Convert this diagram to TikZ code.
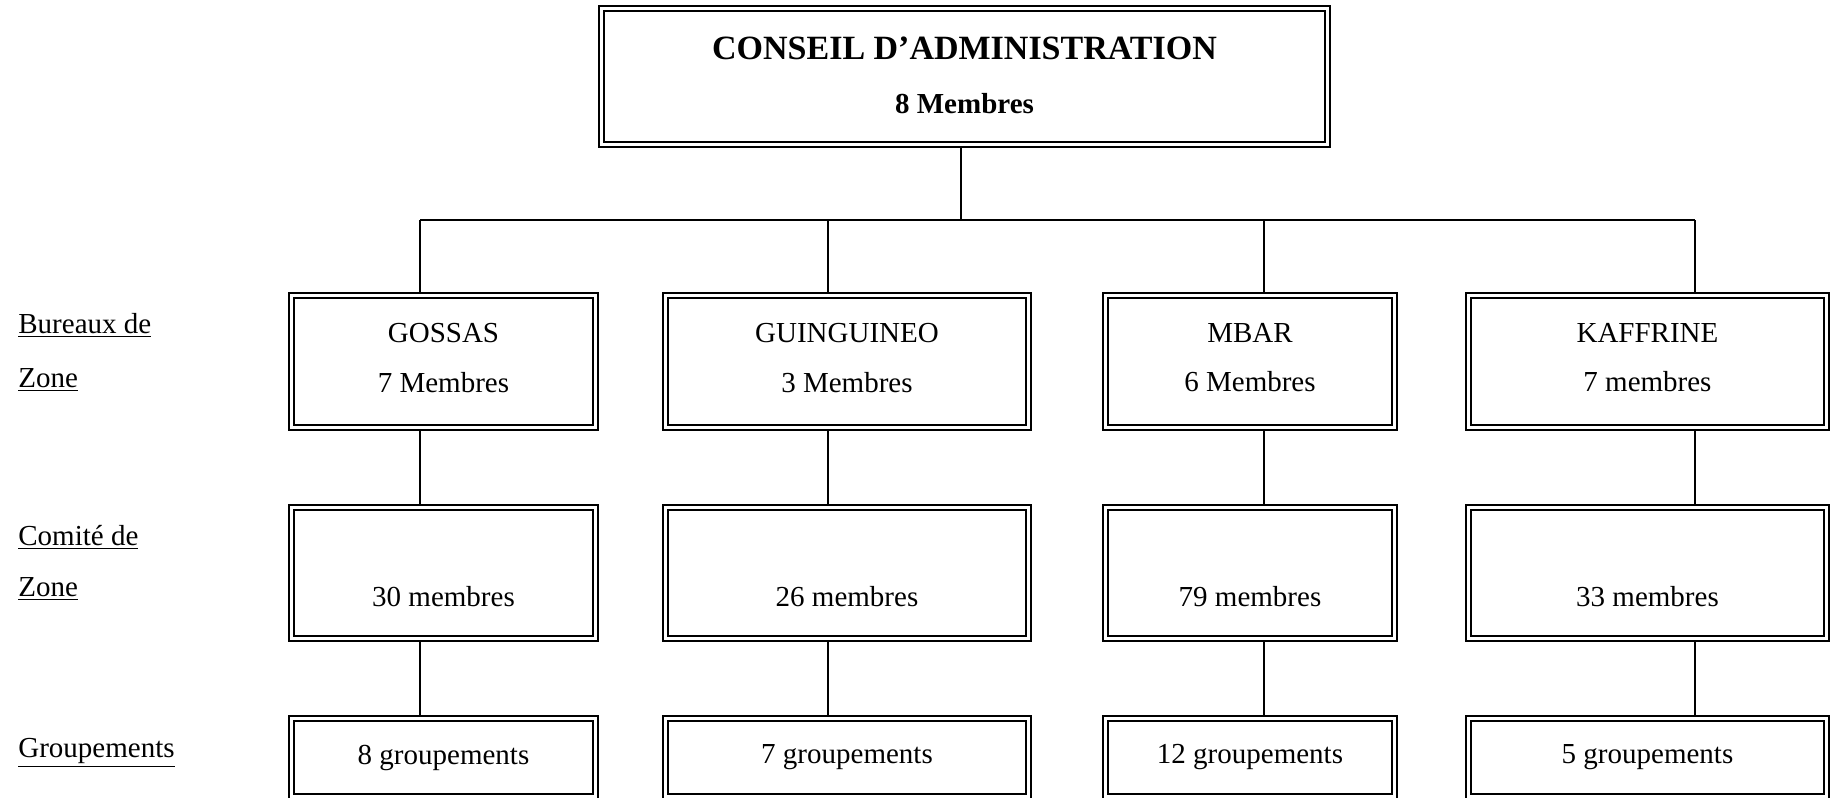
\documentclass[tikz,border=0pt]{standalone}
\usepackage{fontspec}
\setmainfont{Liberation Serif}

\begin{document}
\begin{tikzpicture}[
  x=0.5pt,y=-0.5pt,
  font=\fontsize{14.5}{17.4}\selectfont,
  box/.style={draw,double,line width=0.75pt,double distance=1.75pt,
              inner sep=0pt,outer sep=1.6pt,align=center},
  bz/.style={box,minimum height=66pt,text depth=4pt},
  cz/.style={box,minimum height=65.5pt},
  gz/.style={box,minimum height=39pt},
  wG/.style={minimum width=152pt},
  wU/.style={minimum width=181.5pt},
  wM/.style={minimum width=144.5pt},
  wK/.style={minimum width=179pt},
  lab/.style={anchor=base west,inner sep=0pt},
]
\useasboundingbox (0,0) rectangle (1832,798);

% ---- conseil -------------------------------------------------------------
\node[box,minimum width=363pt,minimum height=68pt,text depth=1.2pt,
      font=\fontsize{14.5}{20}\selectfont\bfseries] (CA) at (964.5,76.5)
  {{\fontsize{17}{20}\selectfont CONSEIL D’ADMINISTRATION}\\[7pt]8 Membres};

% ---- bureaux de zone -----------------------------------------------------
\node[bz,wG] (BG) at (443.5,361.5) {GOSSAS\\[7.5pt]7 Membres};
\node[bz,wU] (BU) at (847,361.5) {GUINGUINEO\\[7.5pt]3 Membres};
\node[bz,wM] (BM) at (1250,361.5) {MBAR\\[7.5pt]6 Membres};
\node[bz,wK] (BK) at (1647.5,361.5) {KAFFRINE\\[7.5pt]7 membres};

% ---- comites de zone -----------------------------------------------------
\node[cz,wG] (CG) at (443.5,573) {\vphantom{G}\\[7pt]30 membres};
\node[cz,wU] (CU) at (847,573) {\vphantom{G}\\[7pt]26 membres};
\node[cz,wM] (CM) at (1250,573) {\vphantom{G}\\[7pt]79 membres};
\node[cz,wK] (CK) at (1647.5,573) {\vphantom{G}\\[7pt]33 membres};

% ---- groupements ---------------------------------------------------------
\node[gz,wG] (GG) at (443.5,757.5) {8 groupements};
\node[gz,wU] (GU) at (847,757.5) {7 groupements};
\node[gz,wM] (GM) at (1250,757.5) {12 groupements};
\node[gz,wK] (GK) at (1647.5,757.5) {5 groupements};

% row labels
\node[lab] (LB1) at (18,333) {\underline{Bureaux de}};
\node[lab] (LB2) at (18,387.5) {\underline{Zone}};
\node[lab] (LC1) at (18,545) {\underline{Comité de}};
\node[lab] (LC2) at (18,596) {\underline{Zone}};
\node[lab] (LG) at (18,757) {\underline{Groupements}};

% ---- links ---------------------------------------------------------------
\coordinate (HB) at (961,220);
\coordinate (DG) at (420,220);
\coordinate (DU) at (828,220);
\coordinate (DM) at (1264,220);
\coordinate (DK) at (1695,220);
\draw[thick] (CA.south -| HB) -- (HB);
\draw[thick] (DG) -- (DK);
\draw[thick] (DG) -- (DG |- BG.north);
\draw[thick] (DU) -- (DU |- BU.north);
\draw[thick] (DM) -- (DM |- BM.north);
\draw[thick] (DK) -- (DK |- BK.north);
\draw[thick] (DG |- BG.south) -- (DG |- CG.north);
\draw[thick] (DU |- BU.south) -- (DU |- CU.north);
\draw[thick] (DM |- BM.south) -- (DM |- CM.north);
\draw[thick] (DK |- BK.south) -- (DK |- CK.north);
\draw[thick] (DG |- CG.south) -- (DG |- GG.north);
\draw[thick] (DU |- CU.south) -- (DU |- GU.north);
\draw[thick] (DM |- CM.south) -- (DM |- GM.north);
\draw[thick] (DK |- CK.south) -- (DK |- GK.north);
\end{tikzpicture}
\end{document}
